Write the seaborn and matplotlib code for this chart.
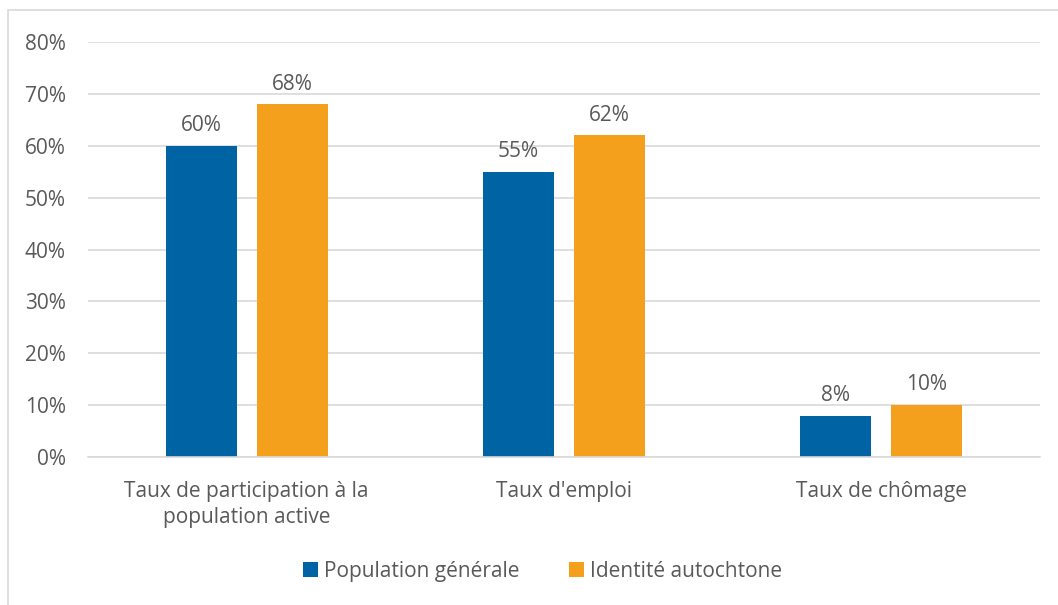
import matplotlib
matplotlib.use("Agg")
import matplotlib.pyplot as plt
import seaborn as sns
import pandas as pd
from matplotlib.patches import Rectangle

categories = ["Taux de participation à la\npopulation active", "Taux d'emploi", "Taux de chômage"]
series = ["Population générale", "Identité autochtone"]
pop_generale = [0.60, 0.55, 0.08]
identite_autochtone = [0.68, 0.62, 0.10]
yticks = [0, 0.1, 0.2, 0.3, 0.4, 0.5, 0.6, 0.7, 0.8]
colors = ["#0063a3", "#f5a01d"]

df = pd.DataFrame({
    "cat": categories * 2,
    "serie": [series[0]] * 3 + [series[1]] * 3,
    "val": pop_generale + identite_autochtone,
})

sns.set_style("white")
plt.rcParams["font.family"] = ["Open Sans", "DejaVu Sans"]
txt = "#595959"
fs = 15

fig = plt.figure(figsize=(10.58, 6.05), dpi=100)
ax = fig.add_axes([0.0832, 0.2446, 0.8998, 0.686])
sns.barplot(data=df, x="cat", y="val", hue="serie", palette=colors,
            width=0.574, gap=0.22, ax=ax, legend=True, saturation=1,
            linewidth=0)

ax.set_ylim(0, 0.8)
ax.set_xlim(-0.5, 2.5)
ax.set_yticks(yticks)
ax.set_yticklabels([f"{int(round(t*100))}%" for t in yticks])
ax.yaxis.grid(True, color="#d9d9d9", linewidth=1.2)
ax.set_axisbelow(True)
for s in ["top", "right", "left"]:
    ax.spines[s].set_visible(False)
ax.spines["bottom"].set_color("#d9d9d9")
ax.spines["bottom"].set_linewidth(1.2)
ax.tick_params(axis="both", length=0, colors=txt, labelsize=fs)
ax.tick_params(axis="y", pad=16)
ax.tick_params(axis="x", pad=17)
for lab in ax.get_xticklabels():
    lab.set_linespacing(1.35)
ax.set_xlabel("")
ax.set_ylabel("")

for cont in ax.containers:
    ax.bar_label(cont, labels=[f"{int(round(v*100))}%" for v in cont.datavalues],
                 padding=7, color=txt, fontsize=fs)

handles, labels = ax.get_legend_handles_labels()
ax.legend_.remove()
fig.legend(handles, labels, loc="center", bbox_to_anchor=(0.513, 0.056), ncol=2,
           frameon=False, fontsize=fs, labelcolor=txt, handlelength=0.7,
           handleheight=0.7, handletextpad=0.3, columnspacing=2.4)

fig.patches.append(Rectangle((8/1058, -0.1), 1.2, 1 - 10/605 + 0.1,
                             transform=fig.transFigure, fill=False,
                             edgecolor="#d9d9d9", linewidth=1.2))

fig.savefig("out.png", dpi=100)
